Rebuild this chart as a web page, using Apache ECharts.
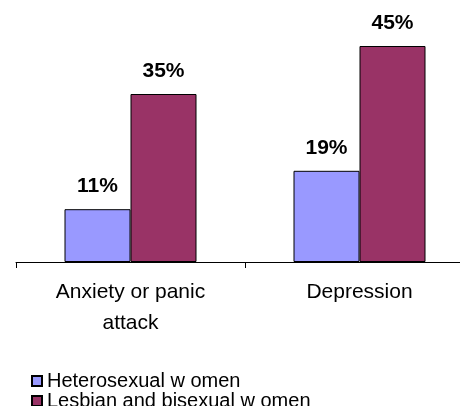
<!DOCTYPE html>
<html>
<head>
<meta charset="utf-8">
<script src="https://cdn.jsdelivr.net/npm/echarts@6/dist/echarts.min.js"></script>
<style>
html,body{margin:0;padding:0;background:#fff;}
#chart{width:460px;height:406px;}
</style>
</head>
<body>
<div id="chart"></div>
<script>
var categories = ['Anxiety or panic\nattack', 'Depression'];
var seriesNames = ['Heterosexual w omen', 'Lesbian and bisexual w omen'];
var heteroValues = [11, 19];
var lesbianValues = [35, 45];

var chart = echarts.init(document.getElementById('chart'), null, {renderer: 'canvas'});
var font = 'Arial, "Liberation Sans", sans-serif';
var labelCfg = {
  show: true,
  position: 'top',
  distance: 12,
  formatter: '{c}%',
  color: '#000',
  fontFamily: font,
  fontWeight: 'bold',
  fontSize: 21
};
function legendFor(name, top) {
  return {
    orient: 'vertical',
    left: 26,
    top: top,
    itemWidth: 10,
    itemHeight: 10,
    icon: 'rect',
    textStyle: {fontFamily: font, fontSize: 20, color: '#000', lineHeight: 20},
    data: [name]
  };
}
chart.setOption({
  animation: false,
  backgroundColor: '#fff',
  grid: {left: 16, right: -14, top: 22, bottom: 144, containLabel: false, outerBoundsMode: 'none'},
  legend: [legendFor(seriesNames[0], 366), legendFor(seriesNames[1], 386)],
  xAxis: {
    type: 'category',
    data: categories,
    axisLine: {lineStyle: {color: '#000', width: 1}},
    axisTick: {show: true, length: 6, lineStyle: {color: '#000'}},
    axisLabel: {fontFamily: font, fontSize: 21, color: '#000', lineHeight: 31, margin: 15, interval: 0}
  },
  yAxis: {
    type: 'value', min: 0, max: 50,
    show: false,
    splitLine: {show: false}
  },
  series: [
    {
      name: seriesNames[0], type: 'bar', data: heteroValues,
      barWidth: 66, barGap: 0,
      itemStyle: {color: '#9999FF', borderColor: '#000', borderWidth: 1},
      label: labelCfg
    },
    {
      name: seriesNames[1], type: 'bar', data: lesbianValues,
      barWidth: 66, barGap: 0,
      itemStyle: {color: '#993366', borderColor: '#000', borderWidth: 1},
      label: labelCfg
    }
  ]
});
</script>
</body>
</html>
